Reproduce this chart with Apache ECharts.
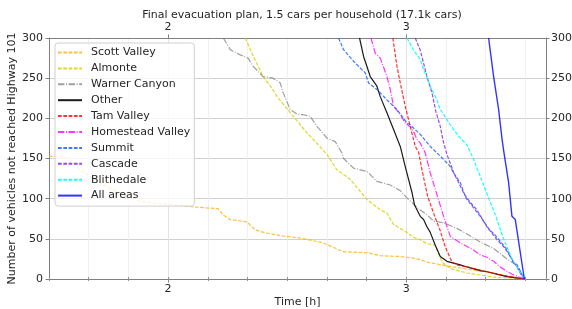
<!DOCTYPE html>
<html lang="en">
<head>
    <meta charset="UTF-8">
    <title>Final evacuation plan</title>
    <script src="https://cdn.jsdelivr.net/npm/echarts@6/dist/echarts.min.js"></script>
</head>
<body style="margin:0">
    <div id="chart" style="width: 572px; height: 309px;"></div>
    <script>
        // time [h], vehicles not yet at Highway 101
        const scottValley = [[1.5,153],[1.567,152],[1.602,144],[1.63,136],[1.672,128],[1.742,115],[1.812,105],[1.882,97],[1.95,94],[2.022,92.5],[2.1,90],[2.163,88.5],[2.21,87.5],[2.23,80],[2.26,74],[2.3,72.5],[2.332,71],[2.366,61],[2.415,57],[2.471,54],[2.555,51],[2.651,45],[2.735,34],[2.836,32.7],[2.891,29],[2.975,28],[3.029,26],[3.059,24],[3.101,20],[3.143,18],[3.197,15],[3.227,13.7],[3.311,9.5],[3.339,9],[3.424,4],[3.451,3],[3.496,0]];
        const almonte = [[2.324,300],[2.36,276],[2.399,252],[2.43,240],[2.458,227],[2.513,207],[2.555,192],[2.583,182],[2.625,169],[2.667,155],[2.709,136],[2.765,124],[2.835,99],[2.891,86],[2.919,82],[2.947,68],[3.003,58],[3.029,52],[3.059,49],[3.087,44],[3.122,42],[3.143,26],[3.155,20],[3.171,16],[3.197,12],[3.255,7.5],[3.311,5],[3.381,2],[3.424,1.5],[3.496,0]];
        const warnerCanyon = [[2.232,300],[2.261,285.5],[2.303,279],[2.336,275],[2.357,265],[2.399,252],[2.441,250],[2.471,244],[2.483,232],[2.513,211],[2.542,205],[2.567,204.5],[2.597,202.5],[2.625,190],[2.667,175.5],[2.702,171],[2.73,157],[2.737,150],[2.779,138],[2.835,134],[2.877,121.5],[2.933,117],[2.975,110],[3.003,101],[3.05,88],[3.087,80],[3.115,72],[3.157,70],[3.213,63],[3.255,56],[3.311,46],[3.367,38],[3.423,25],[3.465,17],[3.496,0]];
        const other = [[2.804,300],[2.821,277],[2.849,252],[2.877,240],[2.891,227],[2.919,207],[2.947,186],[2.975,165],[2.996,140],[3.024,108],[3.035,92],[3.059,78],[3.073,74],[3.087,65],[3.101,58],[3.122,42],[3.143,28],[3.171,22],[3.227,17.5],[3.255,15],[3.311,10.5],[3.339,9],[3.423,3],[3.496,0]];
        const tamValley = [[2.944,300],[2.961,265],[2.975,244],[2.996,215],[3.017,190],[3.038,165],[3.052,158],[3.066,136],[3.09,103],[3.115,82],[3.13,70],[3.143,60],[3.164,40],[3.192,21],[3.22,17],[3.255,15],[3.325,10],[3.339,9],[3.423,3.5],[3.496,0]];
        const homesteadValley = [[2.852,300],[2.87,281],[2.891,275],[2.919,252],[2.933,236],[2.947,215],[2.975,205],[2.996,194],[3.024,188],[3.045,174],[3.059,169],[3.08,157],[3.101,132],[3.129,105],[3.157,78],[3.185,53],[3.227,45],[3.283,36],[3.311,30],[3.339,27],[3.367,22],[3.395,15],[3.423,9.5],[3.451,5],[3.496,0]];
        const summit = [[2.716,300],[2.737,285.5],[2.779,271],[2.828,256.5],[2.842,244],[2.877,236],[2.919,223],[2.961,211],[3.003,194],[3.017,192],[3.059,180],[3.101,165],[3.143,153],[3.185,140],[3.199,132],[3.227,120],[3.248,103],[3.255,99],[3.311,78],[3.353,60],[3.367,57],[3.409,42],[3.423,36.5],[3.451,20],[3.465,18],[3.496,0]];
        const cascade = [[3.038,300],[3.059,285],[3.087,252],[3.108,232],[3.125,208],[3.143,190],[3.155,172],[3.171,155],[3.185,144],[3.2,132],[3.22,120],[3.245,105],[3.27,95],[3.297,86],[3.339,65],[3.381,49],[3.41,40],[3.437,28],[3.465,15],[3.493,0]];
        const blithedale = [[3.003,300],[3.031,285],[3.059,273],[3.073,261],[3.101,240],[3.129,223],[3.143,211],[3.157,205],[3.185,192],[3.22,178],[3.255,167],[3.283,149],[3.297,138],[3.311,128],[3.339,106],[3.374,80],[3.395,62],[3.409,50],[3.444,25],[3.465,15],[3.496,0]];
        const allAreas = [[3.346,300],[3.367,252],[3.388,211],[3.402,175],[3.409,160],[3.43,120],[3.444,78],[3.458,74],[3.496,0]];

        const xTickLabels = [2, 3];
        const yTicks = [0, 50, 100, 150, 200, 250, 300];

        const font = 'DejaVu Sans';
        const txt = '#262626';
        const dash = [3.7, 1.6];
        const dashDot = [6.4, 1.6, 1, 1.6];

        function line(name, data, color, type, width) {
            return {
                name: name,
                type: 'line',
                data: data,
                symbol: 'none',
                showSymbol: false,
                animation: false,
                lineStyle: { color: color, width: width || 1.2, type: type },
                itemStyle: { color: color }
            };
        }

        const xMin = 1.5, xMax = 3.587;

        const myChart = echarts.init(document.getElementById('chart'));
        const option = {
            animation: false,
            title: {
                text: 'Final evacuation plan, 1.5 cars per household (17.1k cars)',
                left: 297,
                top: 5,
                textAlign: 'center',
                textStyle: { fontFamily: font, fontSize: 11, fontWeight: 'normal', color: txt }
            },
            grid: { left: 49, right: 26, top: 38, bottom: 30, containLabel: false, outerBoundsMode: 'none' },
            legend: {
                orient: 'vertical',
                left: 55,
                top: 43,
                padding: [4, 4, 5, 2],
                itemWidth: 24,
                itemHeight: 12,
                itemGap: 4.9,
                itemStyle: { opacity: 0 },
                backgroundColor: 'rgba(255,255,255,0.8)',
                borderColor: '#d0d0d0',
                borderWidth: 1,
                borderRadius: 3,
                textStyle: { fontFamily: font, fontSize: 11, color: txt, padding: [0, 0, 0, 4] }
            },
            xAxis: [
                {
                    type: 'value', min: xMin, max: xMax, position: 'bottom',
                    name: 'Time [h]', nameLocation: 'middle', nameGap: 18, nameMoveOverlap: false,
                    nameTextStyle: { fontFamily: font, fontSize: 11, color: txt },
                    axisLine: { onZero: false, lineStyle: { color: '#808080' } },
                    axisTick: { customValues: xTickLabels, length: 3.5, lineStyle: { color: '#808080' } },
                    axisLabel: { customValues: xTickLabels, margin: 5, fontFamily: font, fontSize: 11, color: txt },
                    splitLine: { show: true, lineStyle: { color: '#b8b8b8', width: 0.8 } }
                },
                {
                    type: 'value', min: xMin, max: xMax, interval: 1 / 6, position: 'bottom',
                    axisLine: { show: false },
                    axisTick: { length: 2, lineStyle: { color: '#909090' } },
                    axisLabel: { show: false },
                    splitLine: { show: true, lineStyle: { color: '#ececec', width: 0.8 } }
                },
                {
                    type: 'value', min: xMin, max: xMax, position: 'top',
                    axisLine: { onZero: false, lineStyle: { color: '#808080' } },
                    axisTick: { customValues: xTickLabels, length: 3.5, lineStyle: { color: '#808080' } },
                    axisLabel: { customValues: xTickLabels, margin: 5, fontFamily: font, fontSize: 11, color: txt },
                    splitLine: { show: false }
                },
                {
                    type: 'value', min: xMin, max: xMax, interval: 1 / 6, position: 'top',
                    axisLine: { show: false },
                    axisTick: { length: 2, lineStyle: { color: '#909090' } },
                    axisLabel: { show: false },
                    splitLine: { show: false }
                }
            ],
            yAxis: [
                {
                    type: 'value', min: 0, max: 300, interval: 50, position: 'left',
                    name: 'Number of vehicles not reached Highway 101', nameLocation: 'middle', nameGap: 31, nameMoveOverlap: false,
                    nameTextStyle: { fontFamily: font, fontSize: 11, color: txt },
                    axisLine: { show: true, onZero: false, lineStyle: { color: '#808080' } },
                    axisTick: { show: true, length: 3.5, lineStyle: { color: '#808080' } },
                    axisLabel: { margin: 6, fontFamily: font, fontSize: 11, color: txt, customValues: yTicks },
                    splitLine: { show: true, lineStyle: { color: '#c4c4c4', width: 0.8 } }
                },
                {
                    type: 'value', min: 0, max: 300, interval: 50, position: 'right',
                    axisLine: { show: true, onZero: false, lineStyle: { color: '#808080' } },
                    axisTick: { show: true, length: 3.5, lineStyle: { color: '#808080' } },
                    axisLabel: { margin: 5, fontFamily: font, fontSize: 11, color: txt, customValues: yTicks },
                    splitLine: { show: false }
                }
            ],
            series: [
                line('Scott Valley', scottValley, 'rgba(255,170,0,0.75)', dash),
                line('Almonte', almonte, 'rgba(220,208,0,0.85)', dash),
                line('Warner Canyon', warnerCanyon, 'rgba(128,128,128,0.75)', dashDot),
                line('Other', other, '#1a1a1a', 'solid'),
                line('Tam Valley', tamValley, 'rgba(255,0,0,0.8)', dash),
                line('Homestead Valley', homesteadValley, 'rgba(255,0,255,0.8)', dashDot),
                line('Summit', summit, 'rgba(30,100,255,0.85)', dash),
                line('Cascade', cascade, 'rgba(138,43,226,0.85)', dash),
                line('Blithedale', blithedale, 'rgba(0,255,255,0.9)', dash),
                line('All areas', allAreas, 'rgba(0,0,255,0.8)', 'solid', 1.4)
            ]
        };
        myChart.setOption(option);
    </script>
</body>
</html>
